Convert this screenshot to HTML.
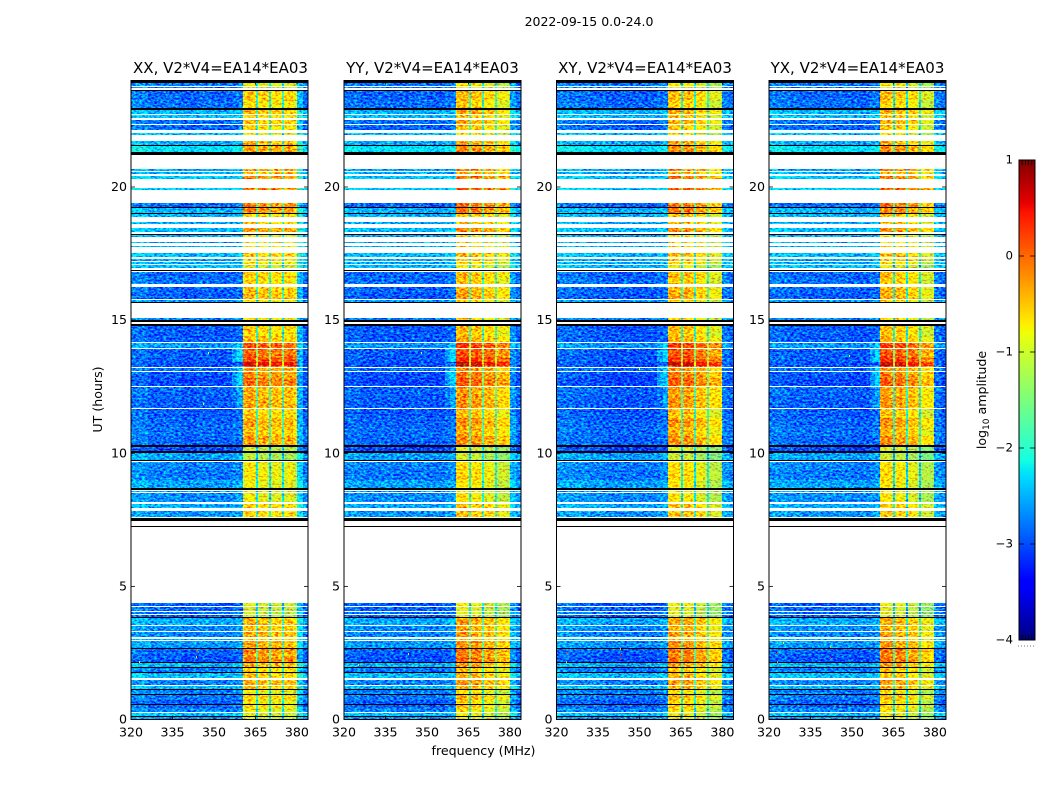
<!DOCTYPE html>
<html lang="en">
<head>
<meta charset="utf-8">
<title>2022-09-15 0.0-24.0</title>
<style>
html,body{margin:0;padding:0;background:#fff;}
svg{display:block;}
text{font-family:"DejaVu Sans","Liberation Sans",sans-serif;fill:#000;}
</style>
</head>
<body>
<svg id="fig" width="1050" height="800" viewBox="0 0 1050 800" xmlns="http://www.w3.org/2000/svg">
<defs>
<filter id="grain" x="0" y="0" width="1" height="1" color-interpolation-filters="sRGB">
<feTurbulence type="fractalNoise" baseFrequency="0.33 0.55" numOctaves="3" seed="7" result="n"/>
<feColorMatrix in="n" type="matrix" values="0 0 0 0 0.5  1.8 0 0 0 -0.4  0 0 0 0 0.5  0 0 0 0 1" result="g"/>
<feComposite in="SourceGraphic" in2="g" operator="arithmetic" k1="0" k2="1" k3="1" k4="-0.5" result="m"/>
<feComposite in="m" in2="SourceGraphic" operator="in"/>
</filter>
</defs>
<text x="589" y="26" font-size="12.5" text-anchor="middle">2022-09-15 0.0-24.0</text>
<text x="483.5" y="755" font-size="12.6" text-anchor="middle">frequency (MHz)</text>
<text transform="translate(102,399.5) rotate(-90)" font-size="12.6" text-anchor="middle">UT (hours)</text>
<text transform="translate(986,400) rotate(-90)" font-size="12.6" text-anchor="middle">log<tspan font-size="9" dy="3">10</tspan><tspan dy="-3"> amplitude</tspan></text>
</svg>
<script>
// Flag markers: W = flagged (blank), K = zero amplitude (black)
const W = null;
const K = -9;

const panelTitles = ["XX, V2*V4=EA14*EA03", "YY, V2*V4=EA14*EA03", "XY, V2*V4=EA14*EA03", "YX, V2*V4=EA14*EA03"];
const xTicks = [320, 335, 350, 365, 380];
const yTicks = [0, 5, 10, 15, 20];
const colorbarTicks = [-4, -3, -2, -1, 0, 1];

// Upper UT edge of each time band (first band starts at 0)
const bandTopUT = [
0.09,0.13,0.24,0.28,0.43,0.54,0.58,0.73,0.92,0.96,
1.03,1.11,1.15,1.26,1.30,1.48,1.56,1.75,1.78,1.93,
1.97,2.12,2.16,2.35,2.50,2.65,2.69,2.95,2.99,3.02,
3.08,3.27,3.31,3.51,3.55,3.81,3.85,3.92,3.96,4.04,
4.08,4.23,4.26,4.38,7.23,7.27,7.46,7.57,7.61,7.83,
7.94,8.09,8.17,8.51,8.54,8.58,8.62,8.69,8.99,9.37,
9.67,9.71,9.75,10.01,10.08,10.23,10.31,10.65,10.99,11.32,
11.66,11.70,12.11,12.49,12.53,12.83,13.05,13.09,13.20,13.24,
13.28,13.43,13.62,13.92,13.95,14.14,14.18,14.40,14.59,14.78,
14.85,14.93,15.00,15.08,15.64,15.68,15.76,15.79,16.02,16.24,
16.36,16.58,16.81,16.85,16.88,16.96,17.07,17.11,17.18,17.22,
17.30,17.37,17.52,17.75,17.78,17.90,17.95,18.12,18.20,18.23,
18.31,18.46,18.61,18.69,18.87,18.99,19.02,19.21,19.25,19.40,
19.87,19.96,20.30,20.41,20.49,20.56,20.60,20.68,21.20,21.31,
21.54,21.58,21.73,21.95,22.03,22.14,22.33,22.37,22.52,22.59,
22.70,22.74,22.89,22.97,23.27,23.61,23.66,23.72,23.76,23.80,
23.91,24.00];

// log10 amplitude outside the bright passband, per band
const backgroundLevel = [
-2.6,K,-2.4,W,-2.7,-2.85,K,-2.9,-2.75,K,
-2.7,-2.75,K,-2.4,W,-2.7,W,-2.4,K,-2.75,
K,-2.45,K,-2.95,-2.9,-2.85,K,-2.6,W,-2.5,
W,-2.7,W,-2.65,W,-2.5,K,-2.9,W,-2.8,
W,-2.85,W,-2.9,W,K,W,K,W,-2.6,
W,-2.5,W,-2.65,W,-2.6,W,K,-2.55,-2.75,
-2.7,W,K,-2.55,K,-3.0,K,-2.85,-2.8,-2.85,
-2.9,W,-2.9,-2.85,W,-3.0,-2.95,W,-2.8,W,
-2.95,-2.95,-2.9,-2.9,W,-2.6,W,-2.9,-2.9,-2.9,
K,W,K,-2.7,W,K,-2.6,W,-2.9,-2.85,
W,-2.8,-2.85,W,K,W,-2.4,W,-2.5,W,
-2.5,W,-2.4,W,-2.45,W,-2.5,W,-2.5,K,
W,-2.4,W,-2.5,W,-2.45,K,-2.45,K,-2.85,
W,-2.3,W,-2.35,W,-2.5,W,-2.5,W,K,
-2.2,K,-2.5,W,-2.4,W,-2.85,W,-2.8,W,
-2.4,W,-2.45,K,-2.8,-2.85,K,W,-2.75,W,
-2.75,K];

// log10 amplitude inside the bright passband, per band
const passbandLevel = [
-0.9,K,-0.9,W,-0.8,-0.6,K,-0.75,-0.5,K,
-0.9,-0.7,K,-0.45,W,-0.35,W,-0.5,K,-0.6,
K,-0.35,K,-0.1,-0.25,-0.1,K,-0.3,W,-0.6,
W,-0.35,W,-0.45,W,-0.4,K,-1.0,W,-1.0,
W,-0.95,W,-0.9,W,K,W,K,W,-0.55,
W,-0.55,W,-0.8,W,-0.8,W,K,-0.8,-0.7,
-0.75,W,K,-1.1,K,-1.0,K,-0.25,-0.45,-0.3,
-0.55,W,-0.3,-0.35,W,0.0,-0.15,W,-0.3,W,
0.1,0.65,0.25,0.05,W,0.2,W,-0.45,-0.6,-0.5,
K,W,K,-0.7,W,K,-0.7,W,-0.4,-0.45,
W,-0.6,-0.5,W,K,W,-0.9,W,-0.7,W,
-0.6,W,-0.5,W,-0.6,W,-0.7,W,-0.8,K,
W,-0.25,W,-0.5,W,-0.6,K,-0.15,K,-0.1,
W,0.0,W,-0.15,W,-0.4,W,-0.2,W,K,
-0.25,K,-0.4,W,-0.8,W,-0.6,W,-0.45,W,
-0.6,W,-0.4,K,-0.65,-0.5,K,W,-0.85,W,
-0.85,K];

// Channel edges in MHz
const channelEdges = [320,326,332,338,344,350,356.5,358.5,360.5,362,364,365.2,365.9,367.2,368.6,369.9,370.6,371.9,373.3,374.6,375.3,376.8,378.4,380,382.2,384];
// 0 = follows background level, 1 = follows passband level
const channelRole = [0,0,0,0,0,0,0,0,1,1,1,1,1,1,1,1,1,1,1,1,1,1,1,0,0];

// Per-channel offsets for each polarisation
const xxOffset = [0.1,-0.03,0.0,-0.08,-0.02,-0.06,0.0,0.05,-0.1,0.05,-0.1,-1.4,-0.15,0,-0.15,-1.45,-0.2,-0.05,-0.2,-1.4,-0.2,-0.05,-0.3,0.4,-0.03];
const yyOffset = [0.02,-0.06,-0.03,-0.08,-0.03,-0.08,0.0,0.05,0.05,0.15,0.05,-1.3,0.0,0.1,-0.05,-1.3,-0.15,-0.05,-0.15,-1.25,-0.35,-0.25,-0.4,0.25,-0.01];
const xyOffset = [0.07,0.02,-0.03,-0.08,-0.08,-0.08,0.0,0.05,0.05,0.1,0.0,-1.4,0.0,0.1,-0.05,-1.45,-0.2,-0.1,-0.25,-1.35,-0.4,-0.35,-0.45,0.1,-0.03];
const yxOffset = [0.06,0.0,-0.03,-0.03,-0.03,-0.08,0.0,0.05,0.05,0.1,0.0,-1.55,-0.05,0.05,-0.1,-1.6,-0.2,-0.1,-0.25,-1.6,-0.45,-0.4,-0.5,0.1,-0.03];

// Cyan shoulder just below the passband
const flankFromUT = [11.7, 12.5, 13.3];
const flankToUT = [12.5, 13.3, 14.2];
const flankLevel = [-2.55, -2.35, -2.3];
const flankFade = [-0.25, 0];

// Isolated interference spikes
const spikePanel = [0,0,0,1,1,2,2,2,2,2,3,3,3,3,3,0,0,1,2,3];
const spikeMHz = [323,343.5,343.5,343,325,323.5,343,343,323.5,343,323,342,342,323,325,346,348,348,350,349];
const spikeUT = [2.2,2.4,2.6,2.5,2.1,2.2,2.3,2.7,2.55,2.45,2.2,2.35,2.75,2.55,2.9,11.9,13.8,13.8,13.2,13.7];
const spikeValue = [-0.8,-0.6,0.2,-1,-1,-0.5,0.3,-0.4,0.2,0.4,-0.3,0.3,-0.5,0.2,-1,-0.9,-0.9,-1,-0.8,-0.9];

// Layout
const panelLeft = [131, 344, 556.5, 769];
const titleNudge = [1, 0, 0, 0];
const panelWidth = 177;
const plotTop = 80.5;
const plotBottom = 719.5;
const utMax = 24;
const freqMin = 320;
const freqMax = 384;
const channelShift = [0, 0, -0.3, -0.5];
const SVGNS = "http://www.w3.org/2000/svg";
const fig = document.getElementById("fig");

function xScale(mhz, p) { return panelLeft[p] + (mhz - freqMin) * panelWidth / (freqMax - freqMin); }
function yScale(ut) { return plotBottom - ut * (plotBottom - plotTop) / utMax; }
function cbScale(v) { return 640 - (v + 4) * 96; }

function ramp(t, pts) {
  for (let i = 1; i < pts.length; i++) {
    if (t <= pts[i][0]) {
      const a = pts[i - 1], b = pts[i];
      return a[1] + (b[1] - a[1]) * (t - a[0]) / (b[0] - a[0]);
    }
  }
  return pts[pts.length - 1][1];
}
const jetR = [[0,0],[0.35,0],[0.66,1],[0.89,1],[1,0.5]];
const jetG = [[0,0],[0.125,0],[0.375,1],[0.64,1],[0.91,0],[1,0]];
const jetB = [[0,0.5],[0.11,1],[0.34,1],[0.65,0],[1,0]];
function jet(v) {
  if (v <= K) return "#000";
  const t = Math.max(0, Math.min(1, (v + 4) / 5));
  return "rgb(" + Math.round(255 * ramp(t, jetR)) + "," + Math.round(255 * ramp(t, jetG)) + "," + Math.round(255 * ramp(t, jetB)) + ")";
}
function mk(tag, parent, attrs) {
  const el = document.createElementNS(SVGNS, tag);
  for (const k in attrs) el.setAttribute(k, attrs[k]);
  parent.appendChild(el);
  return el;
}

const panelOffsets = [xxOffset, yyOffset, xyOffset, yxOffset];
const panelKeys = ["xx", "yy", "xy", "yx"];

panelTitles.forEach(function (title, p) {
  const g = mk("g", fig, {});
  
  

  const heat = mk("g", g, { filter: "url(#grain)", "shape-rendering": "crispEdges" });
  
  
  const zeros = mk("g", g, { "shape-rendering": "crispEdges" });
  
  

  const offsets = panelOffsets[p];
  bandTopUT.forEach(function (top, b) {
    const bottom = b === 0 ? 0 : bandTopUT[b - 1];
    const bg = backgroundLevel[b];
    const hot = passbandLevel[b];
    if (bg === W) return;
    const y0 = Math.round(yScale(top));
    const y1 = Math.round(yScale(bottom));
    if (bg === K) {
      const line = mk("rect", zeros, { x: xScale(freqMin, p), y: y0, width: panelWidth, height: Math.max(1, y1 - y0), fill: "#000" });
      
      
      return;
    }
    channelRole.forEach(function (role, c) {
      let v = (role === 1 ? hot : bg) + offsets[c];
      if (c === 6 || c === 7) {
        flankLevel.forEach(function (lv, f) {
          if (bottom >= flankFromUT[f] && top <= flankToUT[f] + 0.01) v = lv + flankFade[c - 6];
        });
      }
      const shift = c >= 8 && c <= 23 ? channelShift[p] : 0;
      const shiftNext = c >= 7 && c <= 22 ? channelShift[p] : 0;
      const x0 = Math.round(xScale(channelEdges[c] + shift, p));
      const x1 = Math.round(xScale(channelEdges[c + 1] + shiftNext, p));
      const cell = mk("rect", heat, { x: x0, y: y0, width: Math.max(1, x1 - x0), height: Math.max(1, y1 - y0), fill: jet(v) });
      
      
    });
  });

  spikeMHz.forEach(function (mhz, s) {
    if (spikePanel[s] !== p) return;
    const dot = mk("rect", zeros, { x: Math.round(xScale(mhz, p)), y: Math.round(yScale(spikeUT[s])), width: 1, height: 2, fill: jet(spikeValue[s]) });
    
    
  });

  const left = panelLeft[p];
  const frame = mk("rect", g, { x: left, y: plotTop, width: panelWidth, height: plotBottom - plotTop, fill: "none", stroke: "#000", "stroke-width": 1 });
  
  

  xTicks.forEach(function (t) {
    const x = xScale(t, p);
    const bot = mk("line", g, { x1: x, x2: x, y1: plotBottom, y2: plotBottom - 4, stroke: "#000", "stroke-width": 0.8 });
    
    
    const tp = mk("line", g, { x1: x, x2: x, y1: plotTop, y2: plotTop + 4, stroke: "#000", "stroke-width": 0.8 });
    
    
    const lab = mk("text", g, { x: x, y: 736.5, "font-size": 12.6, "text-anchor": "middle" });
    lab.textContent = String(t);
    
    
  });

  yTicks.forEach(function (t) {
    const y = yScale(t);
    const l = mk("line", g, { x1: left, x2: left + 4, y1: y, y2: y, stroke: "#000", "stroke-width": 0.8 });
    
    
    const r = mk("line", g, { x1: left + panelWidth, x2: left + panelWidth - 4, y1: y, y2: y, stroke: "#000", "stroke-width": 0.8 });
    
    
    const lab = mk("text", g, { x: left - 4, y: y + 4, "font-size": 12.6, "text-anchor": "end" });
    lab.textContent = String(t);
    
    
  });

  const ttl = mk("text", g, { x: left + panelWidth / 2 + titleNudge[p], y: 73, "font-size": 15, "text-anchor": "middle" });
  ttl.textContent = title;
  
  
});

// Colorbar
const cb = mk("g", fig, {});


const cbLeft = 1019, cbWidth = 16;
const cbRamp = mk("g", cb, { "shape-rendering": "crispEdges" });


for (let py = 160; py < 640; py++) {
  const v = -4 + (640 - py - 0.5) / 96;
  const s = mk("rect", cbRamp, { x: cbLeft, y: py, width: cbWidth, height: 1, fill: jet(v) });
  
  
}
const cbFrame = mk("rect", cb, { x: cbLeft, y: 160, width: cbWidth, height: 480, fill: "none", stroke: "#000", "stroke-width": 1 });


colorbarTicks.forEach(function (t) {
  const y = cbScale(t);
  if (t > -4 && t < 1) {
    [[cbLeft, cbLeft + 5], [cbLeft + cbWidth, cbLeft + cbWidth - 5]].forEach(function (pair) {
      const tk = mk("line", cb, { x1: pair[0], x2: pair[1], y1: y, y2: y, stroke: "#000", "stroke-width": 0.8 });
      
      
    });
  }
  const lab = mk("text", cb, { x: 1013, y: y + 3.5, "font-size": 11.8, "text-anchor": "end" });
  lab.textContent = t < 0 ? "\u2212" + Math.abs(t) : String(t);
  
  
});
[1,2,3,4].forEach(function (n) {
  const x = cbLeft + n * cbWidth / 5;
  const a = mk("line", cb, { x1: x, x2: x, y1: 160, y2: 165, stroke: "#000", "stroke-width": 0.8 });
  
  
  const b = mk("line", cb, { x1: x, x2: x, y1: 640, y2: 635, stroke: "#000", "stroke-width": 0.8 });
  
  
});
const dots = mk("line", cb, { x1: 1018, x2: 1035, y1: 646, y2: 646, stroke: "#777", "stroke-width": 1, "stroke-dasharray": "1 2" });


</script>
</body>
</html>
